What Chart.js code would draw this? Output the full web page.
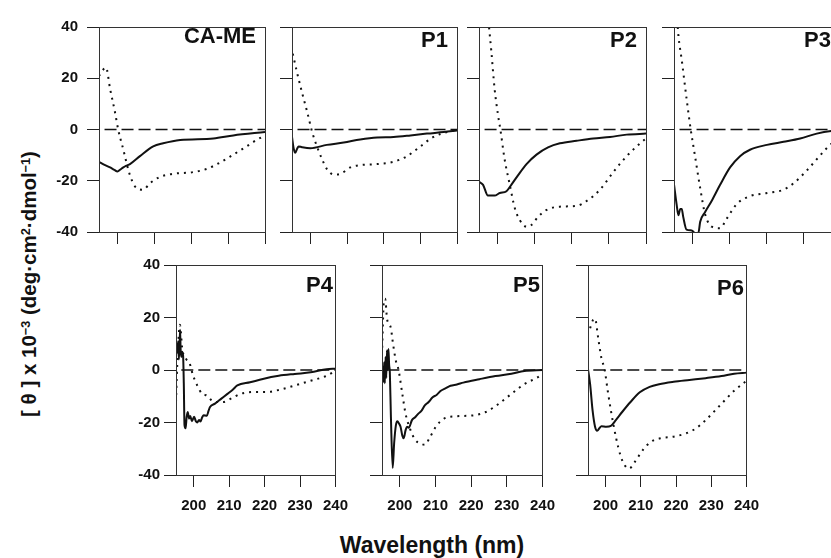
<!DOCTYPE html>
<html>
<head>
<meta charset="utf-8">
<script src="https://cdn.jsdelivr.net/npm/chart.js@4.4.1/dist/chart.umd.min.js"></script>
<style>
  html, body { margin: 0; padding: 0; background: #fff; }
  body {
    width: 831px; height: 558px; position: relative; overflow: hidden;
    font-family: "Liberation Sans", Arial, sans-serif; font-weight: bold; color: #111;
  }
  canvas { position: absolute; }
  .tag { position: absolute; font-size: 22px; line-height: 22px; white-space: nowrap; }
  #ytitle {
    position: absolute; left: 29px; top: 284px; white-space: nowrap; font-size: 20.5px;
    transform: translate(-50%, -50%) rotate(-90deg);
  }
  #xtitle {
    position: absolute; left: 432px; top: 545px; white-space: nowrap; font-size: 23px;
    transform: translate(-50%, -50%);
  }
  sup { font-size: 0.62em; position: relative; top: -0.45em; vertical-align: baseline; line-height: 0; }
</style>
</head>
<body>
<div id="ytitle">[ θ ] x 10<sup>−3</sup> (deg·cm<sup>2</sup>·dmol<sup>−1</sup>)</div>
<div id="xtitle">Wavelength (nm)</div>
<script>
// wavelength (nm) / [theta] x 10^-3
const xTicks = [200, 210, 220, 230, 240];
const yTicks = [-40, -20, 0, 20, 40];
const zeroLine = [[196.5, 0], [240, 0]];
const panelNames = ['CA-ME', 'P1', 'P2', 'P3', 'P4', 'P5', 'P6'];

const caMeSolid = [[195, -12.6], [196.5, -13.8], [198, -14.8], [199.2, -15.8], [200, -16.4], [200.8, -15.6],
  [201.6, -14.8], [202.3, -14.2], [203.4, -13.5], [206.1, -10.4], [209.7, -6.6], [212.4, -5.4], [217, -4.1],
  [226, -3.5], [231.4, -2.3], [240, -1]];
const caMeDotted = [[195, 20.9], [196.9, 24.2], [198, 15.9], [199.3, 7], [200.2, 0], [201.6, -7.9], [203, -16],
  [203.9, -19.8], [205.2, -22.9], [207, -23.5], [208.8, -21], [211.5, -18.5], [215.1, -17.3], [220.6, -16.6],
  [224.2, -15.4], [227.8, -12.9], [231.4, -9.8], [235, -6.6], [237.7, -4.1], [240, -2.3]];

const p1Solid = [[195, -2.9], [195.4, -7], [195.9, -9.1], [196.4, -7.5], [196.8, -6.6], [197.7, -6.9], [200, -7.3],
  [204.5, -6], [209.1, -5.1], [213.6, -3.9], [218.2, -3.1], [222.7, -2.9], [227.3, -2.3], [231.8, -1.6],
  [236.4, -1], [240, -0.4]];
const p1Dotted = [[195.2, 29.6], [196.4, 22.1], [197.7, 14.6], [199.1, 7.1], [200.5, -1], [201.8, -6.6],
  [203.2, -11.6], [204.5, -15.4], [206.4, -17.6], [208.2, -17.3], [210.9, -14.8], [213.6, -13.9], [218.2, -13.5],
  [222.7, -12.6], [226.4, -10.4], [230, -6.6], [233.6, -2.9], [237.3, -1], [240, -0.1]];

const p2Solid = [[195, -20.4], [196.1, -21.6], [197.4, -25.8], [199.2, -25.8], [200.6, -24.8], [202.4, -24.1],
  [203.7, -21.6], [205.5, -17.9], [207.8, -13.5], [210.5, -9.8], [213.6, -7], [216.8, -5.4], [221.3, -4.4],
  [225.8, -3.5], [230.3, -2.9], [234.8, -2], [240, -1.6]];
const p2Dotted = [[197.2, 48], [197.7, 40], [198.3, 30.9], [199.2, 15.9], [200.1, 5.9], [200.8, -0.4],
  [201.9, -11.6], [203.3, -21.6], [204.6, -30.4], [206, -35.4], [207.8, -37.9], [209.1, -37.3], [210.9, -34.1],
  [213.2, -31.4], [216.8, -30.1], [221.3, -29.8], [224, -27.9], [227.6, -23.5], [231.2, -16.6], [234.8, -10.4],
  [238.4, -5.4], [240, -3.5]];

const p3Solid = [[195, -21.4], [195.7, -29.1], [196.2, -33.5], [196.7, -31], [197.1, -31], [197.5, -34.1],
  [198.4, -39.1], [199.8, -39.4], [200.7, -40.4], [201.6, -40.4], [202.1, -36], [203.4, -32.3], [205.2, -27.9],
  [207.5, -21.6], [210.2, -14.8], [212.9, -10.4], [215.6, -7.9], [220.2, -6], [224.7, -4.8], [229.2, -3.5],
  [233.7, -1.6], [237.6, -0.6], [240, -0.4]];
const p3Dotted = [[196, 40], [196.2, 36.5], [197.1, 27.1], [198.4, 12.1], [199.5, 0.3], [200.7, -10.4],
  [202.1, -22.9], [203.4, -32.9], [205.2, -37.9], [207.5, -38.5], [209.3, -34.8], [212, -29.1], [215.6, -26],
  [220.2, -24.8], [224.7, -23.5], [227.4, -21], [231, -16], [233.7, -11.6], [236.4, -7.3], [240, -2.5]];

const p4Solid = [[195.2, 10.3], [195.4, 6.6], [195.6, 11], [195.8, 4], [196, 9], [196.15, 15.3], [196.3, 8],
  [196.5, 5], [196.7, 7], [197, 5.5], [197.2, -5], [197.4, -21], [197.7, -22.2], [198, -18], [198.3, -16],
  [198.7, -18.5], [199, -17.5], [199.5, -19.5], [200.1, -17.8], [200.6, -19.5], [201, -20], [201.5, -19],
  [201.9, -19.6], [202.4, -18], [202.8, -17.2], [203.7, -17.4], [204.2, -15.5], [204.6, -14.1], [206, -12.8],
  [207.8, -10.9], [209.6, -9], [211, -7.5], [212.3, -5.9], [215.9, -4.7], [219.5, -3.4], [224, -2.2],
  [228.5, -1.5], [233, -0.9], [237.5, 0.3], [240, 0.5]];
const p4Dotted = [[195, -12.2], [195.2, -3.4], [195.5, 6.6], [196.1, 17.2], [196.8, 7.8], [197.9, 4.1],
  [198.8, 2.8], [199.7, -1.6], [201, -5.9], [202.4, -9.1], [203.7, -9.7], [205.1, -11.6], [206.5, -12.2],
  [208.3, -12.2], [210.5, -10.9], [213.2, -9.1], [216.8, -8.4], [220.4, -8.4], [224, -7.6], [228.5, -5.9],
  [233, -4.1], [237.5, -2.2], [240, -0.3]];

const p5Solid = [[195.2, -2], [195.4, -4.5], [195.6, 3], [195.8, -5], [196, 5], [196.2, -3], [196.4, 7.5],
  [196.6, 0], [196.8, 8], [197, 2], [197.2, -1], [197.5, -17.9], [198, -37.3], [198.4, -28], [198.9, -21],
  [199.3, -19.5], [199.8, -20.5], [200.2, -21.6], [200.7, -25], [201.1, -26], [201.6, -23], [202, -21.6],
  [202.5, -22], [203.4, -19.1], [204.3, -18], [205.2, -16.6], [206.1, -15.5], [207, -13.5], [208, -12.3],
  [209.2, -10.4], [210.3, -9.5], [211.5, -7.9], [212.8, -7], [214.2, -6], [216, -5.5], [217.8, -4.8],
  [222.3, -3.5], [226.8, -2.3], [231.3, -1.4], [234.9, -0.4], [240, 0]];
const p5Dotted = [[195, 5.9], [195.3, 19.6], [195.5, 25.9], [195.9, 27.1], [196.4, 19.6], [196.9, 17.8],
  [197.5, 15.9], [198, 10.9], [198.9, 3.4], [199.6, 0.3], [200.7, -9.1], [201.6, -16.6], [203, -22.9],
  [204.3, -26.6], [205.6, -27.9], [207, -28.5], [208.3, -26], [210.1, -21.6], [212.4, -18.5], [216, -17.6],
  [220.5, -17.3], [224.1, -16], [227.7, -12.9], [231.3, -9.1], [234.9, -5.4], [238.5, -2.9], [240, -1.6]];

const p6Solid = [[195, 0.3], [195.6, -5.4], [196.3, -15.4], [197, -21.6], [197.6, -23.1], [198.8, -21.4],
  [200.2, -21.6], [201.5, -21.3], [202.9, -19.1], [204.7, -16], [207, -12.3], [209.7, -8.5], [212.5, -6.4],
  [215.2, -5.4], [219.3, -4.5], [223.8, -3.8], [228.4, -3.1], [232.9, -2.3], [236.5, -1.4], [240, -1]];
const p6Dotted = [[195.6, 15.9], [196.4, 19], [197, 19.5], [197.9, 12.1], [198.8, 4.6], [199.7, 0.3],
  [200.6, -7.9], [201.5, -15.4], [202.9, -25.4], [204.3, -32.9], [205.6, -36.6], [206.7, -37.5], [208.4, -34.8],
  [210.6, -30.4], [212.9, -27.3], [215.6, -26], [219.3, -25.4], [222.9, -24.1], [225.6, -22.3], [228.4, -19.1],
  [231.1, -15.4], [233.8, -11.6], [236.5, -7.9], [240, -4.1]];

const solids = [caMeSolid, p1Solid, p2Solid, p3Solid, p4Solid, p5Solid, p6Solid];
const dotteds = [caMeDotted, p1Dotted, p2Dotted, p3Dotted, p4Dotted, p5Dotted, p6Dotted];

// plot boxes (left, top, width) in page pixels
const PLOT_H = 213;
const boxes = [
  { left: 99, top: 19, w: 166, yLab: true, xLab: false, yPad: 9, tagDy: 6 },
  { left: 292, top: 19, w: 165, yLab: false, xLab: false, yPad: 9, tagDy: 10 },
  { left: 479, top: 19, w: 167, yLab: false, xLab: false, yPad: 9, tagDy: 10 },
  { left: 674, top: 19, w: 166, yLab: false, xLab: false, yPad: 9, tagDy: 10 },
  { left: 176, top: 262, w: 166, yLab: true, xLab: true, yPad: 4, tagDy: 12 },
  { left: 382, top: 262, w: 167, yLab: false, xLab: true, yPad: 4, tagDy: 12 },
  { left: 588, top: 262, w: 165, yLab: false, xLab: true, yPad: 4, tagDy: 15 }
];
const AX_W = 50, AX_H = 42, PAD_T = 10, PAD_R = 16;
const FONT = { family: '"Liberation Sans", Arial, sans-serif', size: 15, weight: 'bold' };

const frame = {
  id: 'frame',
  afterDraw(chart) {
    const { ctx, chartArea: a } = chart;
    ctx.save();
    ctx.strokeStyle = '#333';
    ctx.lineWidth = 1;
    ctx.strokeRect(Math.round(a.left) + 0.5, Math.round(a.top) + 0.5,
      Math.round(a.right - a.left), Math.round(a.bottom - a.top));
    ctx.restore();
  }
};

const pts = arr => arr.map(([x, y]) => ({ x, y }));

boxes.forEach((b, i) => {
  const cv = document.createElement('canvas');
  cv.width = AX_W + b.w + PAD_R;
  cv.height = PAD_T + PLOT_H + AX_H;
  cv.style.left = (b.left - AX_W) + 'px';
  cv.style.top = (b.top - PAD_T) + 'px';
  document.body.appendChild(cv);

  const tag = document.createElement('div');
  tag.className = 'tag';
  tag.textContent = panelNames[i];
  tag.style.right = (831 - (b.left + b.w - 9)) + 'px';
  tag.style.top = (b.top + b.tagDy) + 'px';
  document.body.appendChild(tag);

  new Chart(cv, {
    type: 'line',
    data: {
      datasets: [
        { data: pts(zeroLine), borderColor: '#111', borderWidth: 1.6, borderDash: [12, 5] },
        { data: pts(dotteds[i]), borderColor: '#111', borderWidth: 2, borderDash: [2, 5],
          cubicInterpolationMode: 'monotone' },
        { data: pts(solids[i]), borderColor: '#111', borderWidth: 2, cubicInterpolationMode: 'monotone' }
      ]
    },
    options: {
      responsive: false,
      animation: false,
      layout: { padding: { top: PAD_T, right: PAD_R, left: 0, bottom: 0 } },
      plugins: { legend: { display: false }, tooltip: { enabled: false } },
      elements: { point: { radius: 0 } },
      scales: {
        x: {
          type: 'linear', min: 195, max: 240,
          afterFit: s => { s.height = AX_H; },
          afterBuildTicks: s => { s.ticks = xTicks.map(v => ({ value: v })); },
          grid: { drawOnChartArea: false, tickLength: 12, color: '#222' },
          border: { display: false },
          ticks: { padding: 10, color: '#111', font: FONT, autoSkip: false, maxRotation: 0,
            callback: v => (b.xLab ? v : '') }
        },
        y: {
          min: -40, max: 40,
          afterFit: s => { s.width = AX_W; },
          afterBuildTicks: s => { s.ticks = yTicks.map(v => ({ value: v })); },
          grid: { drawOnChartArea: false, tickLength: 12, color: '#222' },
          border: { display: false },
          ticks: { padding: b.yPad, color: '#111', font: FONT, autoSkip: false,
            callback: v => (b.yLab ? v : '') }
        }
      }
    },
    plugins: [frame]
  });
});
</script>
</body>
</html>
